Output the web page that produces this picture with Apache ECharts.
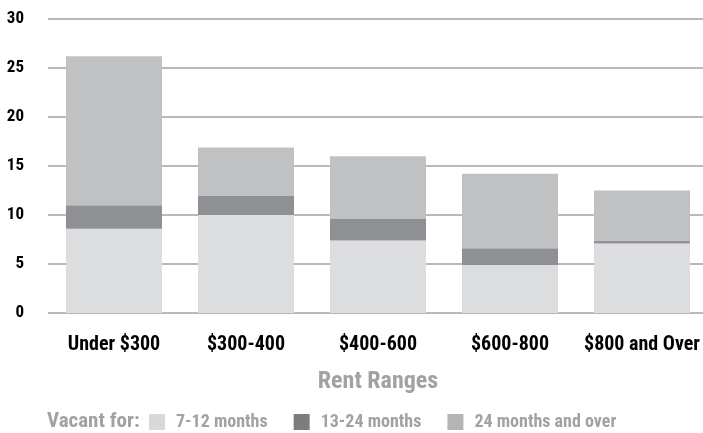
<!DOCTYPE html>
<html>
<head>
<meta charset="utf-8">
<script src="https://cdn.jsdelivr.net/npm/echarts@6/dist/echarts.min.js"></script>
<style>
  html, body { margin: 0; padding: 0; background: #fff; }
  #chart { width: 703px; height: 433px; }
</style>
</head>
<body>
<div id="chart"></div>
<script>
const rentRanges = ['Under $300', '$300-400', '$400-600', '$600-800', '$800 and Over']
const months7to12 = [8.6, 10.0, 7.4, 4.9, 7.1]
const months13to24 = [2.4, 2.0, 2.2, 1.7, 0.3]
const months24plus = [15.2, 4.9, 6.4, 7.6, 5.1]
const seriesNames = ['7-12 months', '13-24 months', '24 months and over']

const FONT = '"Roboto Condensed", Roboto, sans-serif'
const colors = ['#dcdddf', '#8f9093', '#c0c1c3']
const legendColors = ['#d9d9da', '#7d7d7f', '#b5b5b6']
const grey = '#a2a2a4'

const chart = echarts.init(document.getElementById('chart'), null, { renderer: 'canvas' })

const mkSeries = (name, data, i) => ({
  name,
  type: 'bar',
  stack: 'vacant',
  barWidth: 96,
  data,
  itemStyle: { color: colors[i] },
  emphasis: { disabled: true },
})

chart.setOption({
  animation: false,
  textStyle: { fontFamily: FONT },
  // grid runs a little past the right edge, like the original
  grid: { left: 48, width: 660, top: 19, bottom: 120, outerBoundsMode: 'none' },
  xAxis: {
    type: 'category',
    data: rentRanges,
    name: 'Rent Ranges',
    nameLocation: 'middle',
    nameGap: 57,
    nameTextStyle: { color: grey, fontSize: 24, fontWeight: 'bold', fontFamily: FONT },
    axisLine: { show: false },
    axisTick: { show: false },
    axisLabel: { color: '#000', fontSize: 20, fontWeight: 'bold', margin: 22, interval: 0, fontFamily: FONT },
  },
  yAxis: {
    type: 'value',
    min: 0,
    max: 30,
    interval: 5,
    axisLine: { show: false },
    axisTick: { show: false },
    axisLabel: { color: '#000', fontSize: 17, fontWeight: 'bold', margin: 24, fontFamily: FONT },
    splitLine: { lineStyle: { color: '#b9b9bb', width: 2 } },
  },
  legend: {
    left: 149,
    top: 413,
    padding: 0,
    itemWidth: 16,
    itemHeight: 16,
    itemGap: 26,
    icon: 'rect',
    data: seriesNames.map((name, i) => ({ name, itemStyle: { color: legendColors[i] } })),
    textStyle: { color: grey, fontSize: 18, fontWeight: 'bold', fontFamily: FONT, padding: [0, 0, 0, 6] },
  },
  graphic: [{
    type: 'text',
    left: 47,
    top: 411,
    style: { text: 'Vacant for:', fill: grey, font: 'bold 21px ' + FONT },
  }],
  series: [
    mkSeries(seriesNames[0], months7to12, 0),
    mkSeries(seriesNames[1], months13to24, 1),
    mkSeries(seriesNames[2], months24plus, 2),
  ],
})
</script>
</body>
</html>
